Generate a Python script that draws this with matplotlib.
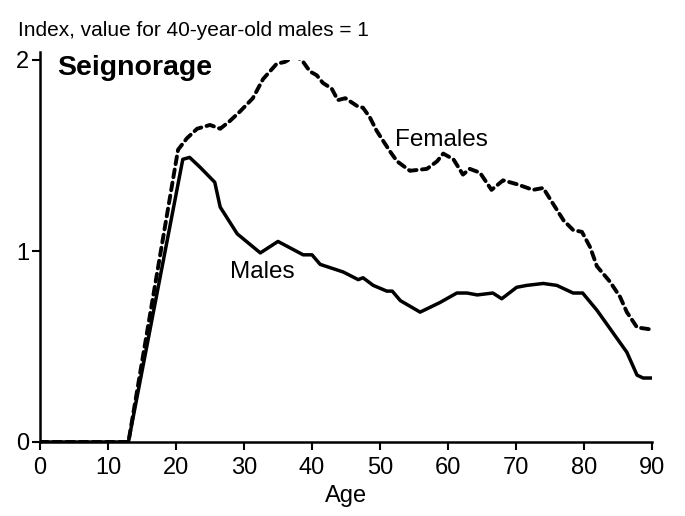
import matplotlib
matplotlib.use("Agg")
import matplotlib.pyplot as plt

plt.rcParams['font.family'] = ['Liberation Sans', 'DejaVu Sans']

male_age = [0, 13, 21, 22, 23.5, 25.7, 26.5, 29, 32.4, 35, 38.7, 40, 41.2, 44.6, 46.8, 47.5,
            49, 51, 51.8, 53, 55.9, 58.8, 61.3, 62.8, 64.3, 66.6, 67.9, 70.1, 71.6, 74, 76,
            78.4, 79.8, 81.9, 84.3, 86.3, 87.8, 88.7, 90]
male_val = [0.0, 0.0, 1.48, 1.49, 1.44, 1.36, 1.23, 1.09, 0.99, 1.05, 0.98, 0.98, 0.93, 0.89,
            0.85, 0.86, 0.82, 0.79, 0.79, 0.74, 0.68, 0.73, 0.78, 0.78, 0.77, 0.78, 0.75, 0.81,
            0.82, 0.83, 0.82, 0.78, 0.78, 0.69, 0.57, 0.47, 0.35, 0.335, 0.335]

female_age = [0, 13, 20.3, 21.6, 23.1, 25, 26.5, 27.9, 29.4, 31.3, 32.8, 34.8, 36, 37.5, 38.5,
              39.7, 40.7, 41.6, 42.9, 43.8, 44.9, 46.6, 47.5, 48.5, 49.5, 50.4, 51.5, 52.5,
              54.4, 56.9, 58.4, 59.3, 60.8, 62.2, 63.2, 64.7, 66.4, 68.1, 70.1, 72.5, 74,
              75.4, 77, 78.4, 79.7, 80.9, 81.9, 83.8, 85.3, 86.3, 87.8, 89.7]
female_val = [0.0, 0.0, 1.53, 1.59, 1.64, 1.66, 1.64, 1.68, 1.73, 1.80, 1.90, 1.98, 1.99, 2.02,
              2.0, 1.94, 1.92, 1.88, 1.85, 1.79, 1.80, 1.76, 1.75, 1.70, 1.63, 1.58, 1.52,
              1.47, 1.42, 1.43, 1.47, 1.51, 1.48, 1.40, 1.43, 1.41, 1.32, 1.37, 1.35, 1.32,
              1.33, 1.25, 1.16, 1.11, 1.10, 1.02, 0.92, 0.84, 0.76, 0.68, 0.60, 0.59]

x_ticks = [0, 10, 20, 30, 40, 50, 60, 70, 80, 90]
y_ticks = [0, 1, 2]

fig = plt.figure(figsize=(6.85, 5.16), dpi=100)
ax = fig.add_axes([40/685, 74/516, 612/685, 382/516])

ax.plot(female_age, female_val, color='black', lw=2.8, linestyle=(0, (2.0, 1.4)),
        solid_capstyle='round', dash_capstyle='round')
ax.plot(male_age, male_val, color='black', lw=2.5, solid_joinstyle='round')

ax.set_xlim(0, 90)
ax.set_ylim(0, 2.0)
ax.set_xticks(x_ticks)
ax.set_yticks(y_ticks)
ax.tick_params(axis='both', direction='out', length=6, width=1.5, labelsize=17)
ax.tick_params(axis='x', pad=5)
ax.tick_params(axis='y', pad=2)
for s in ['top', 'right']:
    ax.spines[s].set_visible(False)
for s in ['left', 'bottom']:
    ax.spines[s].set_linewidth(1.8)
ax.spines['left'].set_bounds(0, 2.04)
ax.set_xlabel('Age', fontsize=17, labelpad=4)

fig.text(18/685, 1 - 31/516, 'Index, value for 40-year-old males = 1', fontsize=15,
         va='center', ha='left')
ax.text(2.5, 1.96, 'Seignorage', fontsize=20.5, fontweight='bold', va='center', ha='left')
ax.text(52.2, 1.58, 'Females', fontsize=17.5, va='center', ha='left')
ax.text(27.9, 0.89, 'Males', fontsize=17.5, va='center', ha='left')

fig.savefig('out.png', dpi=100)
